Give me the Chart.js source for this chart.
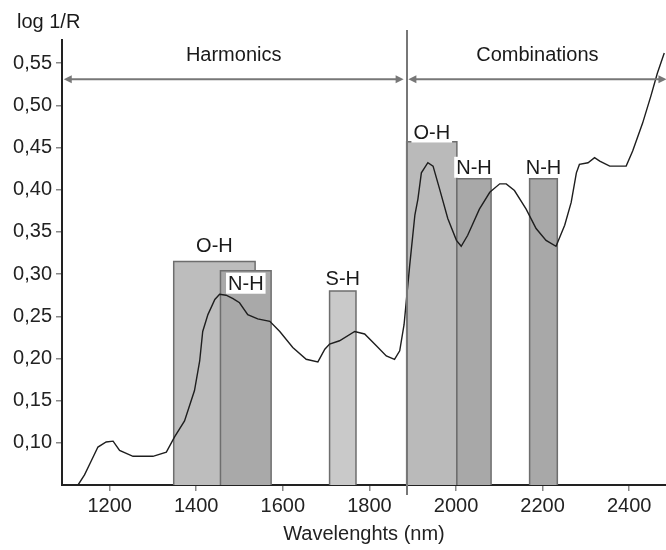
<!DOCTYPE html>
<html>
<head>
<meta charset="utf-8">
<script src="https://cdn.jsdelivr.net/npm/chart.js@4"></script>
<style>
  html, body { margin: 0; padding: 0; background: #fff; }
  #wrap { width: 666px; height: 550px; }
</style>
</head>
<body>
<div id="wrap"><canvas id="chart"></canvas></div>
<script>
// spectrum curve (wavelength nm, log 1/R)
const waveX = [1127, 1142, 1158, 1173, 1192, 1208, 1223, 1254, 1300, 1331, 1350, 1373, 1396, 1408, 1415, 1427, 1443, 1454, 1469, 1485, 1500, 1519, 1542, 1570, 1593, 1623, 1654, 1681, 1697, 1708, 1731, 1766, 1789, 1816, 1839, 1858, 1870, 1880, 1893, 1905, 1912, 1920, 1935, 1947, 1962, 1981, 2001, 2012, 2027, 2054, 2078, 2101, 2116, 2135, 2162, 2185, 2208, 2231, 2251, 2266, 2278, 2285, 2305, 2320, 2332, 2355, 2393, 2408, 2431, 2450, 2465, 2481];
const logR = [0.050, 0.062, 0.079, 0.095, 0.101, 0.102, 0.091, 0.084, 0.084, 0.089, 0.107, 0.126, 0.162, 0.197, 0.232, 0.252, 0.270, 0.276, 0.275, 0.271, 0.266, 0.252, 0.247, 0.244, 0.232, 0.213, 0.199, 0.196, 0.211, 0.217, 0.221, 0.232, 0.229, 0.215, 0.203, 0.199, 0.209, 0.240, 0.310, 0.370, 0.389, 0.420, 0.432, 0.428, 0.401, 0.366, 0.340, 0.333, 0.346, 0.377, 0.397, 0.407, 0.407, 0.399, 0.377, 0.354, 0.340, 0.333, 0.358, 0.385, 0.420, 0.430, 0.432, 0.438, 0.434, 0.428, 0.428, 0.446, 0.479, 0.511, 0.538, 0.562];

// absorption bands
const bandLabels = ["O-H", "N-H", "S-H", "O-H", "N-H", "N-H"];
const bandStart = [1348, 1456, 1708, 1886, 2002, 2170];
const bandEnd = [1536, 1573, 1769, 2002, 2081, 2234];
const bandTop = [0.315, 0.304, 0.280, 0.457, 0.413, 0.413];

// regions with arrows
const regionLabels = ["Harmonics", "Combinations"];
const regionStart = [1094, 1890];
const regionEnd = [1879, 2486];
const dividerAt = 1886;
const arrowLevel = 0.531;
const regionLabelLevel = 0.5595;

const xTicks = [1200, 1400, 1600, 1800, 2000, 2200, 2400];
const yTicks = [0.10, 0.15, 0.20, 0.25, 0.30, 0.35, 0.40, 0.45, 0.50, 0.55];
const yMin = 0.05, yMax = 0.5775, xMin = 1090, xMax = 2485;

// styles kept apart from the data
const bandFill = ["#bdbdbd", "#a9a9a9", "#c9c9c9", "#bababa", "#a8a8a8", "#a8a8a8"];
const bandLabelDy = [-9, 19, -6, -3, -5, -5];   // baseline offset from bar top, px
const bandLabelBox = [false, true, false, true, true, true];

const FONT = "'Liberation Sans', Arial, sans-serif";
Chart.defaults.font.family = FONT;

const curve = {
  type: "line",
  data: waveX.map((x, i) => ({ x: x, y: logR[i] })),
  borderColor: "#1e1e1e",
  borderWidth: 1.4,
  pointRadius: 0,
  tension: 0,
  fill: false,
  order: 0
};

const bands = bandLabels.map((lab, i) => ({
  type: "line",
  label: lab,
  data: [
    { x: bandStart[i], y: yMin },
    { x: bandStart[i], y: bandTop[i] },
    { x: bandEnd[i], y: bandTop[i] },
    { x: bandEnd[i], y: yMin }
  ],
  borderColor: "#6e6e6e",
  borderWidth: 1.5,
  backgroundColor: bandFill[i],
  pointRadius: 0,
  tension: 0,
  fill: "start",
  order: 10 - i
}));

function arrowHead(ctx, x, y, dir) {
  ctx.beginPath();
  ctx.moveTo(x, y);
  ctx.lineTo(x - dir * 8, y - 4);
  ctx.lineTo(x - dir * 8, y + 4);
  ctx.closePath();
  ctx.fill();
}

const annotations = {
  id: "annotations",
  afterDatasetsDraw(chart) {
    const { ctx, scales: { x, y } } = chart;
    ctx.save();

    // divider between harmonics and combinations
    ctx.strokeStyle = "#777";
    ctx.lineWidth = 2;
    const dx = Math.round(x.getPixelForValue(dividerAt));
    ctx.beginPath();
    ctx.moveTo(dx, 30);
    ctx.lineTo(dx, y.bottom + 10);
    ctx.stroke();

    // region arrows + labels
    const ay = y.getPixelForValue(arrowLevel);
    ctx.fillStyle = "#777";
    regionLabels.forEach((lab, i) => {
      const x0 = x.getPixelForValue(regionStart[i]);
      const x1 = x.getPixelForValue(regionEnd[i]);
      ctx.strokeStyle = "#777";
      ctx.lineWidth = 2;
      ctx.beginPath();
      ctx.moveTo(x0 + 4, ay);
      ctx.lineTo(x1 - 4, ay);
      ctx.stroke();
      ctx.fillStyle = "#777";
      arrowHead(ctx, x0, ay, -1);
      arrowHead(ctx, x1, ay, 1);

      ctx.fillStyle = "#1a1a1a";
      ctx.font = "20px " + FONT;
      ctx.textAlign = "center";
      ctx.textBaseline = "middle";
      ctx.fillText(lab, (x0 + x1) / 2, y.getPixelForValue(regionLabelLevel));
    });

    // band labels
    ctx.font = "20px " + FONT;
    ctx.textAlign = "center";
    ctx.textBaseline = "alphabetic";
    bandLabels.forEach((lab, i) => {
      const cx = (x.getPixelForValue(bandStart[i]) + x.getPixelForValue(bandEnd[i])) / 2;
      const by = y.getPixelForValue(bandTop[i]) + bandLabelDy[i];
      if (bandLabelBox[i]) {
        const w = ctx.measureText(lab).width;
        ctx.fillStyle = "#fff";
        ctx.fillRect(cx - w / 2 - 2, by - 17, w + 4, 21);
      }
      ctx.fillStyle = "#1a1a1a";
      ctx.fillText(lab, cx, by);
    });

    // y axis caption
    ctx.textAlign = "left";
    ctx.textBaseline = "alphabetic";
    ctx.fillText("log 1/R", 17, 28);
    ctx.restore();
  }
};

new Chart(document.getElementById("chart"), {
  type: "line",
  data: { datasets: [curve, ...bands] },
  options: {
    responsive: true,
    maintainAspectRatio: false,
    animation: false,
    events: [],
    layout: { padding: { top: 40, left: 0, right: 0, bottom: 0 } },
    plugins: { legend: { display: false }, tooltip: { enabled: false } },
    scales: {
      x: {
        type: "linear",
        min: xMin,
        max: xMax,
        afterBuildTicks: s => { s.ticks = xTicks.map(v => ({ value: v })); },
        afterFit: s => { s.height = 65; },
        grid: { drawOnChartArea: false, drawTicks: true, tickLength: 6, color: "#888", lineWidth: 1.5 },
        border: { display: true, color: "#222", width: 2 },
        ticks: { color: "#222", font: { size: 20 }, padding: 3, maxRotation: 0, callback: v => String(v) },
        title: { display: true, text: "Wavelenghts (nm)", color: "#222", font: { size: 20 }, padding: { top: 4, bottom: 4 } }
      },
      y: {
        type: "linear",
        min: yMin,
        max: yMax,
        afterBuildTicks: s => { s.ticks = yTicks.map(v => ({ value: v })); },
        afterFit: s => { s.width = 62; },
        grid: { drawOnChartArea: false, drawTicks: true, tickLength: 6, color: "#888", lineWidth: 1.5 },
        border: { display: true, color: "#222", width: 2 },
        ticks: { color: "#222", font: { size: 20 }, padding: 4, callback: v => v.toFixed(2).replace(".", ",") }
      }
    }
  },
  plugins: [annotations]
});
</script>
</body>
</html>
